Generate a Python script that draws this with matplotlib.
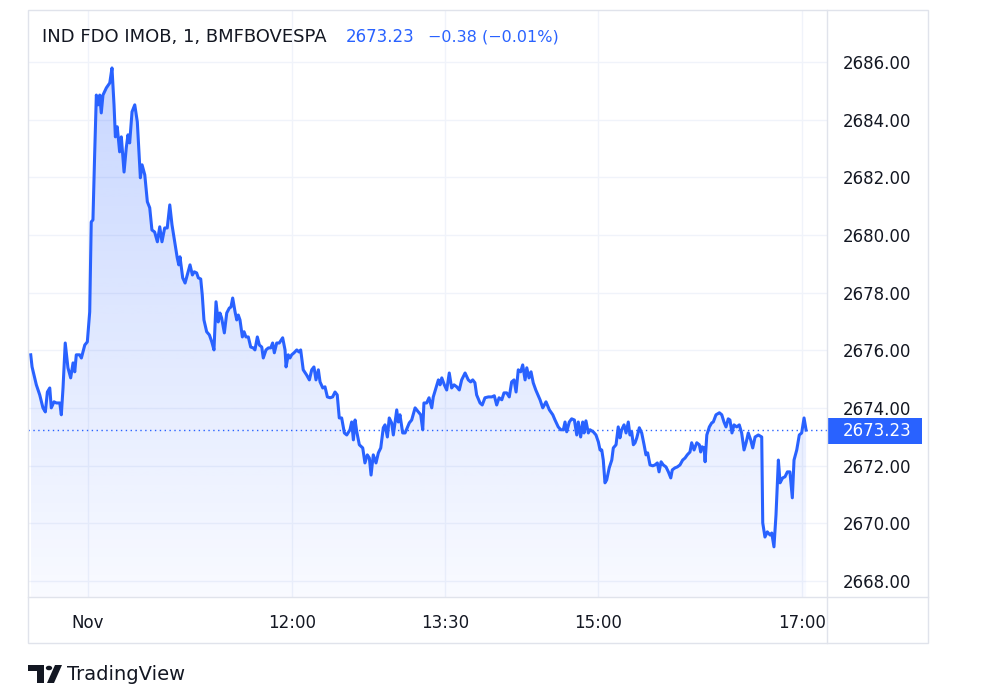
import numpy as np
import matplotlib.pyplot as plt
from matplotlib.patches import Rectangle, Polygon, Circle
from matplotlib.lines import Line2D
from matplotlib.colors import LinearSegmentedColormap

# minutes relative to 10:00 (session open), 1-minute index price
minutes = [
    -33.7, -32.9, -30.4, -28.4, -26.5, -25.1, -23.9, -22.5, -21.6, -20.0,
    -18.6, -16.6, -15.7, -14.7, -13.4, -11.8, -10.2, -8.8, -7.8, -6.9,
    -4.9, -3.9, -1.9, -0.4, 1.0, 1.9, 2.9, 3.9, 4.9, 5.9,
    6.9, 7.8, 8.8, 10.8, 12.8, 14.1, 15.3, 16.1, 17.2, 18.6,
    19.6, 21.2, 22.5, 23.5, 24.5, 25.9, 27.5, 29.0, 30.8, 31.8,
    33.4, 34.9, 36.3, 37.6, 39.2, 40.8, 42.2, 43.5, 45.1, 46.6,
    48.1, 49.4, 51.0, 52.5, 53.4, 54.1, 55.7, 57.1, 58.4, 60.0,
    61.4, 62.5, 63.9, 64.9, 66.3, 67.2, 68.2, 69.8, 71.4, 72.8,
    74.1, 75.3, 76.6, 77.6, 78.6, 80.2, 81.6, 83.1, 84.1, 85.1,
    86.5, 87.5, 88.4, 89.4, 90.8, 91.8, 92.9, 94.3, 95.7, 97.2,
    98.2, 99.6, 100.8, 102.2, 103.1, 104.7, 106.1, 107.5, 108.6, 109.6,
    111.0, 112.5, 114.5, 115.9, 116.5, 117.8, 118.8, 119.8, 121.2, 122.8,
    124.1, 125.1, 126.6, 128.6, 130.2, 131.6, 132.9, 134.1, 135.5, 136.5,
    138.1, 139.4, 140.8, 142.4, 143.9, 145.3, 146.6, 147.8, 149.2, 150.8,
    152.2, 154.1, 155.1, 156.1, 157.1, 158.1, 159.6, 161.6, 162.9, 164.3,
    165.5, 166.5, 167.8, 169.4, 170.8, 172.2, 173.7, 174.7, 176.1, 177.2,
    178.6, 179.6, 181.6, 182.5, 183.5, 185.1, 186.5, 187.8, 189.0, 190.4,
    192.4, 194.3, 195.7, 196.9, 197.6, 199.2, 200.6, 202.2, 203.1, 204.7,
    206.1, 207.1, 208.1, 209.6, 211.0, 212.5, 213.9, 215.3, 216.9, 218.4,
    219.8, 221.8, 223.7, 225.1, 226.3, 227.6, 228.6, 230.6, 231.9, 233.5,
    235.5, 237.5, 239.0, 240.4, 241.8, 243.4, 244.7, 246.3, 247.8, 249.2,
    250.6, 251.8, 253.1, 254.5, 255.7, 257.1, 258.1, 259.4, 260.6, 261.9,
    263.4, 265.9, 267.5, 269.4, 271.4, 273.4, 274.7, 276.6, 278.1, 279.6,
    280.6, 281.6, 283.1, 284.5, 286.1, 287.5, 288.4, 289.8, 291.0, 291.8,
    292.9, 294.3, 295.3, 297.2, 298.8, 300.2, 301.2, 302.2, 303.1, 304.1,
    305.1, 306.6, 308.1, 309.0, 310.6, 311.9, 312.9, 313.9, 315.3, 316.5,
    317.8, 318.8, 319.8, 320.8, 321.8, 322.8, 324.3, 325.7, 327.1, 328.2,
    329.2, 330.6, 332.2, 333.5, 334.9, 335.9, 337.1, 338.4, 340.0, 341.4,
    342.8, 343.7, 345.3, 346.6, 348.2, 349.8, 351.2, 352.5, 354.1, 355.1,
    356.5, 358.1, 359.6, 360.4, 361.2, 362.4, 363.0, 364.0, 365.5, 366.9,
    367.8, 369.4, 371.4, 372.8, 374.1, 375.3, 376.6, 377.6, 378.8, 380.0,
    381.6, 383.1, 384.5, 385.9, 387.1, 388.4, 389.8, 391.0, 392.4, 394.3,
    396.3, 396.9, 398.2, 399.6, 401.2, 402.2, 403.5, 404.7, 406.1, 407.1,
    408.6, 410.0, 411.4, 412.9, 414.3, 415.3, 416.9, 418.4, 419.8, 421.2,
    422.4,
]
prices = [
    2675.84, 2675.42, 2674.80, 2674.45, 2674.00, 2673.86, 2674.55, 2674.69, 2674.00, 2674.21,
    2674.17, 2674.17, 2673.76, 2674.69, 2676.25, 2675.39, 2675.04, 2675.56, 2675.25, 2675.84,
    2675.84, 2675.73, 2676.18, 2676.29, 2677.33, 2680.45, 2680.52, 2682.77, 2684.85, 2684.51,
    2684.85, 2684.23, 2684.85, 2685.10, 2685.27, 2685.79, 2684.51, 2683.40, 2683.75, 2682.88,
    2683.40, 2682.18, 2683.02, 2683.47, 2683.19, 2684.27, 2684.51, 2683.92, 2681.98, 2682.43,
    2682.08, 2681.15, 2680.94, 2680.17, 2680.10, 2679.76, 2680.28, 2679.76, 2680.24, 2680.24,
    2681.04, 2680.35, 2679.76, 2679.20, 2678.96, 2679.24, 2678.51, 2678.33, 2678.61, 2678.96,
    2678.61, 2678.72, 2678.68, 2678.51, 2678.47, 2677.92, 2677.05, 2676.64, 2676.53, 2676.29,
    2676.01, 2677.68, 2676.98, 2677.29, 2677.12, 2676.60, 2677.29, 2677.46, 2677.50, 2677.81,
    2677.33, 2677.05, 2677.22, 2677.05, 2676.46, 2676.64, 2676.46, 2676.46, 2676.11, 2676.08,
    2676.01, 2676.46, 2676.18, 2676.11, 2675.73, 2676.01, 2676.08, 2676.08, 2676.25, 2675.91,
    2676.25, 2676.25, 2676.43, 2676.01, 2675.42, 2675.84, 2675.73, 2675.84, 2675.91, 2676.01,
    2675.94, 2676.01, 2675.32, 2675.14, 2674.97, 2675.32, 2675.42, 2674.97, 2675.32, 2674.90,
    2674.69, 2674.73, 2674.38, 2674.35, 2674.38, 2674.55, 2674.45, 2673.65, 2673.65, 2673.13,
    2673.06, 2673.24, 2673.51, 2672.89, 2673.58, 2673.17, 2672.72, 2672.61, 2672.09, 2672.37,
    2672.26, 2671.67, 2672.37, 2672.09, 2672.44, 2672.61, 2673.31, 2673.41, 2672.99, 2673.65,
    2673.48, 2673.06, 2673.93, 2673.51, 2673.76, 2673.13, 2673.13, 2673.31, 2673.48, 2673.58,
    2674.00, 2673.86, 2673.76, 2673.24, 2674.17, 2674.17, 2674.35, 2674.00, 2674.38, 2674.69,
    2674.97, 2674.80, 2675.04, 2674.80, 2674.62, 2675.21, 2674.69, 2674.80, 2674.73, 2674.62,
    2674.97, 2675.21, 2674.97, 2674.90, 2674.97, 2674.87, 2674.45, 2674.17, 2674.10, 2674.35,
    2674.38, 2674.38, 2674.42, 2674.10, 2674.35, 2674.28, 2674.52, 2674.52, 2674.38, 2674.90,
    2674.97, 2674.55, 2675.32, 2675.25, 2675.49, 2674.97, 2675.39, 2675.04, 2675.25, 2674.87,
    2674.62, 2674.28, 2674.00, 2674.21, 2673.93, 2673.76, 2673.58, 2673.34, 2673.24, 2673.24,
    2673.51, 2673.17, 2673.51, 2673.62, 2673.58, 2673.06, 2673.51, 2672.99, 2673.51, 2673.13,
    2673.55, 2673.13, 2673.24, 2673.17, 2673.06, 2672.82, 2672.54, 2672.54, 2672.19, 2671.40,
    2671.50, 2671.92, 2672.19, 2672.61, 2672.72, 2673.34, 2672.96, 2673.24, 2673.41, 2673.13,
    2673.51, 2673.06, 2673.17, 2672.72, 2672.79, 2672.96, 2673.31, 2673.13, 2672.72, 2672.37,
    2672.44, 2672.02, 2671.99, 2672.02, 2672.09, 2671.78, 2672.13, 2672.02, 2671.95, 2671.78,
    2671.57, 2671.85, 2671.92, 2671.95, 2672.02, 2672.19, 2672.26, 2672.37, 2672.47, 2672.79,
    2672.54, 2672.79, 2672.72, 2672.47, 2672.65, 2672.61, 2672.13, 2673.06, 2673.34, 2673.48,
    2673.51, 2673.76, 2673.83, 2673.76, 2673.51, 2673.34, 2673.62, 2673.58, 2673.13, 2673.41,
    2673.34, 2673.41, 2673.13, 2672.54, 2672.79, 2673.13, 2672.89, 2672.61, 2672.99, 2673.06,
    2672.99, 2670.01, 2669.52, 2669.70, 2669.59, 2669.66, 2669.18, 2670.29, 2672.19, 2671.40,
    2671.57, 2671.61, 2671.78, 2671.78, 2670.88, 2672.19, 2672.54, 2673.06, 2673.13, 2673.65,
    2673.23,
]

time_ticks = [0, 120, 210, 300, 420]
time_labels = ["Nov", "12:00", "13:30", "15:00", "17:00"]
price_ticks = [2668, 2670, 2672, 2674, 2676, 2678, 2680, 2682, 2684, 2686]

symbol = "IND FDO IMOB, 1, BMFBOVESPA"
last_price = 2673.23
change = -0.38
change_pct = -0.01

BLUE = "#2962FF"
TEXT = "#131722"
GRID = "#f0f3fa"
BORDER = "#e0e3eb"

W, H = 987, 699
fig = plt.figure(figsize=(W / 100, H / 100), dpi=100)


def fx(px):
    return px / W


def fy(py):
    return 1 - py / H


ax = fig.add_axes([fx(28), fy(597), fx(827) - fx(28), fy(10) - fy(597)])
ax.set_xlim(-35.3, 434.7)
ax.set_ylim(2667.44, 2687.80)

x = np.array(minutes)
y = np.array(prices)
y_bottom = 2667.44

# gradient area under the line
verts = [(x[0], y_bottom)] + list(zip(x, y)) + [(x[-1], y_bottom)]
clip = Polygon(verts, closed=True, facecolor="none", edgecolor="none")
ax.add_patch(clip)
cmap = LinearSegmentedColormap.from_list(
    "area", [(41 / 255, 98 / 255, 1, 0.03), (41 / 255, 98 / 255, 1, 0.26)])
grad = np.linspace(1, 0, 256).reshape(-1, 1)
img = ax.imshow(grad, cmap=cmap, aspect="auto", origin="upper",
                extent=[x[0], x[-1], y_bottom, y.max()], zorder=1)
img.set_clip_path(clip)

ax.plot(x, y, color=BLUE, lw=2.2, solid_joinstyle="round", zorder=3)
ax.axhline(last_price, color=BLUE, lw=1, ls=(0, (1, 2.5)), zorder=2)

ax.set_xticks(time_ticks)
ax.set_xticklabels(time_labels)
ax.set_yticks(price_ticks)
ax.set_yticklabels([f"{p:.2f}" for p in price_ticks])
ax.grid(True, color=GRID, lw=1, zorder=0)
ax.set_axisbelow(True)
ax.yaxis.tick_right()
ax.tick_params(axis="y", length=0, pad=11.5, labelsize=12, labelcolor=TEXT)
ax.tick_params(axis="x", length=0, pad=12, labelsize=12, labelcolor=TEXT)
for s in ax.spines.values():
    s.set_visible(False)

# frame of the widget
fig.add_artist(Rectangle((fx(28), fy(643)), fx(928) - fx(28), fy(10) - fy(643),
                         transform=fig.transFigure, fill=False,
                         edgecolor=BORDER, lw=1))
fig.add_artist(Line2D([fx(827), fx(827)], [fy(10), fy(643)],
                      transform=fig.transFigure, color=BORDER, lw=1))
fig.add_artist(Line2D([fx(28), fx(928)], [fy(597), fy(597)],
                      transform=fig.transFigure, color=BORDER, lw=1))

# last price label on the scale
fig.add_artist(Rectangle((fx(827), fy(444)), fx(922) - fx(827), fy(418) - fy(444),
                         transform=fig.transFigure, facecolor=BLUE,
                         edgecolor="none"))
fig.text(fx(843), fy(431), f"{last_price:.2f}", color="white", fontsize=12,
         va="center", ha="left")

# legend line
fig.text(fx(42), fy(37), symbol, color=TEXT, fontsize=13, va="center")
fig.text(fx(346), fy(37), f"{last_price:.2f}", color=BLUE, fontsize=12, va="center")
fig.text(fx(428), fy(37), f"\u2212{abs(change):.2f} (\u2212{abs(change_pct):.2f}%)",
         color=BLUE, fontsize=11.5, va="center")

# TradingView logo + name
fig.add_artist(Polygon([(fx(28), fy(665)), (fx(44), fy(665)), (fx(44), fy(683)),
                        (fx(37), fy(683)), (fx(37), fy(671)), (fx(28), fy(671))],
                       closed=True, transform=fig.transFigure,
                       facecolor=TEXT, edgecolor="none"))
fig.add_artist(Circle((fx(49), fy(668)), 3.2 / W, transform=fig.transFigure,
                      facecolor=TEXT, edgecolor="none"))
fig.add_artist(Polygon([(fx(55), fy(665)), (fx(62), fy(665)), (fx(54), fy(683)),
                        (fx(47), fy(683))],
                       closed=True, transform=fig.transFigure,
                       facecolor=TEXT, edgecolor="none"))
fig.text(fx(67), fy(674), "TradingView", color=TEXT, fontsize=14, va="center")

fig.savefig("out.png", dpi=100)
